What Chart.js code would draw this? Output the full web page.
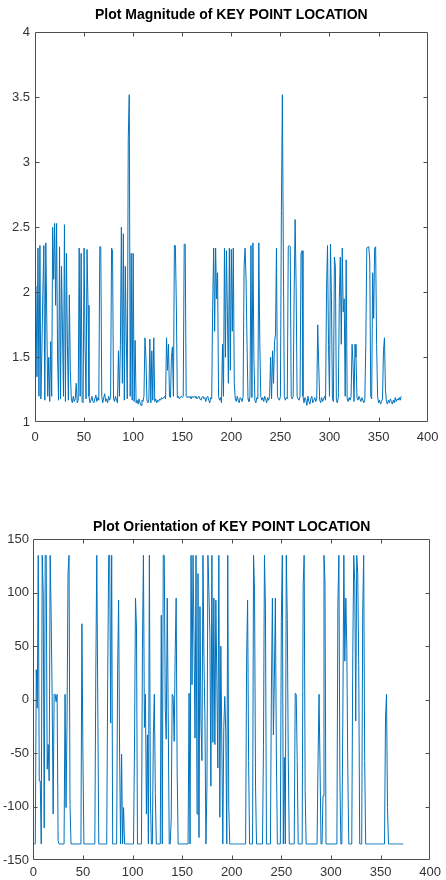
<!DOCTYPE html>
<html>
<head>
<meta charset="utf-8">
<script src="https://cdn.jsdelivr.net/npm/chart.js@4.4.1/dist/chart.umd.min.js"></script>
<style>
  html, body { margin: 0; padding: 0; background: #fff; }
  body { width: 446px; height: 880px; position: relative; overflow: hidden; }
  canvas { position: absolute; left: 0; }
  #magChart { top: 0; }
  #oriChart { top: 490px; }
</style>
</head>
<body>
<canvas id="magChart" width="446" height="460"></canvas>
<canvas id="oriChart" width="446" height="390"></canvas>
<script>
// Data (x = 1, 2, 3, ... keypoint index)
const magnitudes = [
  2.05, 1.35, 2.34, 1.2, 2.36, 1.18, 1.55, 2.0, 2.36, 1.17,
  2.38, 1.8, 1.2, 1.5, 1.16, 1.62, 1.2, 2.5, 2.1, 2.53,
  1.9, 2.53, 1.5, 1.17, 2.35, 1.18, 2.2, 1.7, 1.2, 2.52,
  1.16, 2.3, 1.6, 1.17, 1.98, 1.4, 1.18, 1.15, 1.2, 1.16,
  1.18, 1.3, 1.15, 1.17, 2.34, 1.2, 2.3, 1.16, 1.15, 2.34,
  1.6, 1.18, 2.33, 1.9, 1.2, 1.15, 1.17, 1.2, 1.16, 1.15,
  1.18, 1.21, 1.16, 1.19, 1.17, 2.35, 2.35, 1.2, 1.15, 1.19,
  1.22, 1.16, 1.18, 1.15, 1.2, 1.17, 1.19, 2.34, 2.32, 1.18,
  1.16, 1.2, 1.17, 1.15, 1.55, 1.2, 1.6, 2.5, 1.3, 2.45,
  1.17, 2.2, 1.65, 1.18, 3.18, 3.52, 1.2, 2.3, 1.17, 2.3,
  1.16, 1.63, 1.15, 1.17, 1.14, 1.18, 1.15, 1.13, 1.17, 1.16,
  1.2, 1.65, 1.5, 1.17, 1.15, 1.18, 1.64, 1.15, 1.55, 1.17,
  1.65, 1.16, 1.18, 1.15, 1.17, 1.16, 1.18, 1.17, 1.19, 1.18,
  1.19, 1.2, 1.18, 1.65, 1.4, 1.6, 1.2, 1.19, 1.5, 1.58,
  1.2, 2.36, 2.36, 1.9, 1.19, 1.2, 1.18, 1.19, 1.2, 1.19,
  1.2, 2.37, 2.37, 1.2, 1.19, 1.2, 1.19, 1.2, 1.18, 1.2,
  1.19, 1.2, 1.19, 1.2, 1.18, 1.19, 1.2, 1.18, 1.17, 1.19,
  1.2, 1.18, 1.19, 1.16, 1.19, 1.2, 1.17, 1.15, 1.19, 1.18,
  1.9, 2.34, 1.7, 2.34, 1.95, 2.15, 1.2, 1.17, 1.19, 1.15,
  1.6, 1.2, 2.34, 1.5, 2.32, 1.85, 1.3, 2.34, 1.4, 2.33,
  1.7, 2.34, 1.3, 1.18, 1.16, 1.2, 1.17, 1.15, 1.19, 1.18,
  1.16, 1.2, 2.2, 2.34, 2.1, 1.6, 1.18, 1.16, 1.2, 2.36,
  1.19, 2.38, 1.5, 1.17, 1.15, 1.19, 1.18, 2.38, 1.62, 1.2,
  1.17, 1.19, 1.16, 1.2, 1.18, 1.15, 1.19, 1.17, 1.2, 1.5,
  1.18, 1.55, 1.3, 1.62, 1.68, 2.34, 1.2, 1.18, 1.17, 1.2,
  2.63, 3.52, 2.28, 1.2, 1.17, 1.19, 1.18, 2.35, 2.36, 2.35,
  1.2, 1.18, 1.2, 2.0, 2.56, 2.05, 1.2, 1.18, 1.17, 1.2,
  2.3, 2.32, 1.2, 1.15, 1.19, 1.17, 1.13, 1.2, 1.16, 1.14,
  1.18, 1.2, 1.15, 1.17, 1.19, 1.16, 1.18, 1.75, 1.45, 1.17,
  1.15, 1.19, 1.16, 1.18, 1.2, 1.17, 2.02, 2.36, 1.6, 1.2,
  2.37, 1.95, 1.18, 1.16, 2.27, 2.2, 1.17, 1.15, 1.19, 1.95,
  2.27, 1.6, 2.34, 1.85, 1.95, 1.2, 2.25, 1.18, 1.16, 1.19,
  1.17, 1.2, 1.6, 1.45, 1.16, 1.6, 1.5, 1.19, 1.17, 1.2,
  1.18, 1.16, 1.19, 1.17, 1.15, 1.18, 1.6, 2.34, 2.35, 2.35,
  2.25, 1.2, 1.18, 2.15, 1.8, 2.34, 2.35, 1.6, 1.2, 1.15,
  1.17, 1.14, 1.16, 1.18, 1.55, 1.65, 1.25, 1.16, 1.14, 1.17,
  1.15, 1.18, 1.16, 1.14, 1.17, 1.15, 1.19, 1.16, 1.18, 1.17,
  1.19, 1.17, 1.2
];

const orientations = [
  -135, -135, 28, -8, 135, -76, -76, -135, 135, 98,
  -120, 135, 135, -65, -42, -76, 135, 78, 3, -107,
  5, 5, -2, 5, -132, -135, -135, -135, -135, -135,
  -135, 5, -101, -20, 118, 135, -98, -135, -135, -135,
  -135, -135, -135, -135, -135, -135, -135, -135, 71, -51,
  -135, -135, -135, -135, -135, -135, -135, -135, -135, -135,
  -135, -135, 25, 135, -5, -135, -135, -135, -135, -135,
  -135, -135, -135, -135, 20, 135, 135, -22, 135, -135,
  -135, -135, -135, -135, 28, 93, -51, -135, -51, -135,
  -101, -135, -135, -135, -135, -135, -135, -135, -135, -135,
  -135, -45, 95, 68, -135, -135, -135, -135, -135, 47,
  135, -26, 5, -107, -33, -135, 135, -89, -135, -135,
  -33, 5, -87, -135, -135, -135, -135, -135, 79, -135,
  135, 135, -8, -37, 95, -16, -135, -135, -112, 5,
  3, -39, 43, 95, -67, -135, -135, -135, -135, -135,
  -135, -135, -135, -135, -135, -135, 6, -135, 135, 14,
  135, 56, -36, 135, -107, 118, -129, 87, -20, -57,
  135, 40, -20, -135, -82, 135, 101, 61, -81, 135,
  -40, 95, -42, 93, 17, -64, 135, -110, 50, -39,
  -135, -26, 3, -30, -135, 135, -99, -135, -135, -135,
  -135, -135, -135, -135, -135, -135, -135, -135, -135, -135,
  -135, -135, -135, -135, 37, 93, -57, -135, -135, -135,
  -135, 135, 102, -81, -135, -135, -135, -135, -135, -135,
  -135, -43, 135, 85, -135, -135, -135, -135, -135, 11,
  95, -33, 20, 95, -51, -135, -135, -135, -135, 73,
  135, -135, -54, -135, 135, 75, -54, -135, -135, -135,
  -135, -135, -135, 6, 5, -57, -135, -135, -135, -135,
  -135, 106, 135, -85, -135, -135, -135, -135, -135, -135,
  -135, -135, -135, -135, -135, -135, -57, 5, -62, -135,
  -135, -90, 135, 110, -135, -135, -135, -135, -135, -135,
  -135, -135, -135, -135, -135, -135, 90, 135, -70, -135,
  -135, -14, 135, 36, 95, 48, -68, -135, -135, -135,
  -135, 43, 135, 110, -20, 135, 118, 33, -135, -135,
  -135, 81, 135, -57, -135, -135, -135, -135, -135, -135,
  -135, -135, -135, -135, -135, -135, -135, -135, -135, -135,
  -135, -135, -135, -135, -17, 5, -101, -135, -135, -135,
  -135, -135, -135, -135, -135, -135, -135, -135, -135, -135,
  -135, -135, -135
];

const xRange = [0, 400];
const xStep = 50;
const magRange = [1, 4];
const magStep = 0.5;
const oriRange = [-150, 150];
const oriStep = 50;

const LINE_BLUE = '#0072BD';
const AXIS_COLOR = '#4d4d4d';
const LABEL_COLOR = '#333333';
const tickFont = { family: "'Liberation Sans', Arial, Helvetica, sans-serif", size: 13 };
const titleFont = { family: "'Liberation Sans', Arial, Helvetica, sans-serif", size: 14, weight: 'bold' };

// box around the axes with small inward ticks on all four sides (MATLAB style)
const axesBox = {
  id: 'axesBox',
  afterDatasetsDraw(chart) {
    const { ctx, chartArea: a, scales } = chart;
    const L = Math.round(a.left) + 0.5, R = Math.round(a.right) - 0.5;
    const T = Math.round(a.top) + 0.5, B = Math.round(a.bottom) - 0.5;
    const len = 4;
    ctx.save();
    ctx.strokeStyle = AXIS_COLOR;
    ctx.lineWidth = 1;
    ctx.beginPath();
    ctx.rect(L, T, R - L, B - T);
    scales.x.ticks.forEach(t => {
      const px = Math.round(scales.x.getPixelForValue(t.value)) + 0.5;
      if (px <= L + 1 || px >= R - 1) return;
      ctx.moveTo(px, B); ctx.lineTo(px, B - len);
      ctx.moveTo(px, T); ctx.lineTo(px, T + len);
    });
    scales.y.ticks.forEach(t => {
      const py = Math.round(scales.y.getPixelForValue(t.value)) + 0.5;
      if (py <= T + 1 || py >= B - 1) return;
      ctx.moveTo(L, py); ctx.lineTo(L + len, py);
      ctx.moveTo(R, py); ctx.lineTo(R - len, py);
    });
    ctx.stroke();
    ctx.restore();
  }
};

function toPoints(values) {
  return values.map((v, i) => ({ x: i + 1, y: v }));
}

// plain number labels: 4, 3.5, 1 (no forced decimals)
const plainLabel = v => String(Math.round(v * 100) / 100);

function makeChart(id, opts) {
  return new Chart(document.getElementById(id), {
    type: 'line',
    data: {
      datasets: [{
        data: toPoints(opts.values),
        borderColor: LINE_BLUE,
        borderWidth: 1,
        pointRadius: 0,
        tension: 0,
        fill: false
      }]
    },
    options: {
      responsive: false,
      animation: false,
      events: [],
      layout: { padding: { left: 0, right: opts.padRight, top: 0, bottom: 0 } },
      plugins: {
        legend: { display: false },
        tooltip: { enabled: false },
        title: {
          display: true,
          text: opts.title,
          color: '#000',
          font: titleFont,
          fullSize: false,
          padding: opts.titlePad
        }
      },
      scales: {
        x: {
          type: 'linear',
          min: xRange[0], max: xRange[1],
          ticks: { stepSize: xStep, padding: opts.xLabelPad, font: tickFont, color: LABEL_COLOR, maxRotation: 0, autoSkip: false, callback: plainLabel },
          grid: { display: false, drawTicks: false },
          border: { display: false },
          afterFit: s => { s.height = opts.xAxisHeight; }
        },
        y: {
          min: opts.yRange[0], max: opts.yRange[1],
          ticks: { stepSize: opts.yStep, padding: opts.yLabelPad, font: tickFont, color: LABEL_COLOR, callback: plainLabel },
          grid: { display: false, drawTicks: false },
          border: { display: false },
          afterFit: s => { s.width = opts.yAxisWidth; }
        }
      }
    },
    plugins: [axesBox]
  });
}

makeChart('magChart', {
  values: magnitudes,
  title: 'Plot Magnitude of KEY POINT LOCATION',
  titlePad: { top: 6.6, bottom: 8.9 },
  yRange: magRange, yStep: magStep,
  padRight: 11, yAxisWidth: 35, xAxisHeight: 37.7,
  xLabelPad: 7.5, yLabelPad: 5
});

makeChart('oriChart', {
  values: orientations,
  title: 'Plot Orientation of KEY POINT LOCATION',
  titlePad: { top: 28.3, bottom: 4.2 },
  yRange: oriRange, yStep: oriStep,
  padRight: 9.3, yAxisWidth: 33.3, xAxisHeight: 20,
  xLabelPad: 5, yLabelPad: 4.3
});
</script>
</body>
</html>
